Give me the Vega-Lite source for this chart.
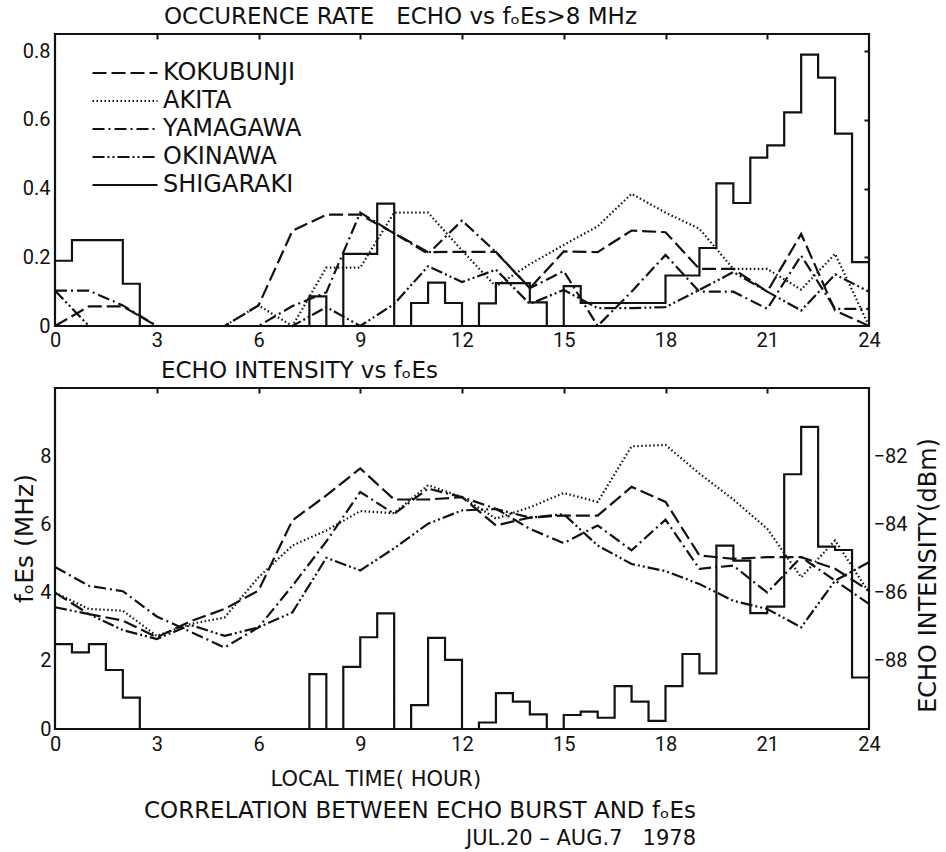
{
  "$schema": "https://vega.github.io/schema/vega-lite/v6.json",
  "background": "white",
  "padding": {"left": 11, "top": 4, "right": 0, "bottom": 4},
  "title": {
    "text": "CORRELATION BETWEEN ECHO BURST AND fₒEs",
    "subtitle": "JUL.20 – AUG.7\u00a0\u00a0\u00a01978",
    "orient": "bottom", "anchor": "end", "frame": "bounds", "dx": -246, "offset": 10,
    "font": "DejaVu Sans", "fontSize": 23, "fontWeight": "normal", "color": "#111",
    "subtitleFont": "DejaVu Sans", "subtitleFontSize": 21, "subtitleColor": "#111", "subtitlePadding": 5
  },
  "spacing": 6,
  "resolve": {"scale": {"strokeDash": "independent"}, "legend": {"strokeDash": "independent"}},
  "vconcat": [
    {
      "width": 814, "height": 292,
      "title": {"text": "OCCURENCE RATE\u00a0\u00a0\u00a0ECHO vs fₒEs>8 MHz", "anchor": "start", "frame": "group", "dx": 109, "fontSize": 23, "offset": 4},
      "layer": [
        {
          "data": {"values": [
            {"hour": 0, "KOKUBUNJI": 0, "AKITA": 0, "YAMAGAWA": 0.103, "OKINAWA": 0.103},
            {"hour": 1, "KOKUBUNJI": 0.057, "AKITA": 0, "YAMAGAWA": 0.103, "OKINAWA": 0},
            {"hour": 2, "KOKUBUNJI": 0.057, "AKITA": 0, "YAMAGAWA": 0.06, "OKINAWA": 0},
            {"hour": 3, "KOKUBUNJI": 0, "AKITA": 0, "YAMAGAWA": 0, "OKINAWA": 0},
            {"hour": 4, "KOKUBUNJI": 0, "AKITA": 0, "YAMAGAWA": 0, "OKINAWA": 0},
            {"hour": 5, "KOKUBUNJI": 0, "AKITA": 0, "YAMAGAWA": 0, "OKINAWA": 0},
            {"hour": 6, "KOKUBUNJI": 0.06, "AKITA": 0.06, "YAMAGAWA": 0, "OKINAWA": 0},
            {"hour": 7, "KOKUBUNJI": 0.277, "AKITA": 0, "YAMAGAWA": 0.058, "OKINAWA": 0},
            {"hour": 8, "KOKUBUNJI": 0.324, "AKITA": 0.17, "YAMAGAWA": 0.098, "OKINAWA": 0.055},
            {"hour": 9, "KOKUBUNJI": 0.324, "AKITA": 0.17, "YAMAGAWA": 0.33, "OKINAWA": 0},
            {"hour": 10, "KOKUBUNJI": 0.27, "AKITA": 0.33, "YAMAGAWA": 0.27, "OKINAWA": 0.064},
            {"hour": 11, "KOKUBUNJI": 0.215, "AKITA": 0.33, "YAMAGAWA": 0.21, "OKINAWA": 0.174},
            {"hour": 12, "KOKUBUNJI": 0.216, "AKITA": 0.22, "YAMAGAWA": 0.307, "OKINAWA": 0.128},
            {"hour": 13, "KOKUBUNJI": 0.216, "AKITA": 0.115, "YAMAGAWA": 0.215, "OKINAWA": 0.164},
            {"hour": 14, "KOKUBUNJI": 0.11, "AKITA": 0.18, "YAMAGAWA": 0.11, "OKINAWA": 0.064},
            {"hour": 15, "KOKUBUNJI": 0.217, "AKITA": 0.236, "YAMAGAWA": 0.16, "OKINAWA": 0.105},
            {"hour": 16, "KOKUBUNJI": 0.215, "AKITA": 0.29, "YAMAGAWA": 0, "OKINAWA": 0.052},
            {"hour": 17, "KOKUBUNJI": 0.278, "AKITA": 0.385, "YAMAGAWA": 0.1, "OKINAWA": 0.052},
            {"hour": 18, "KOKUBUNJI": 0.273, "AKITA": 0.33, "YAMAGAWA": 0.207, "OKINAWA": 0.055},
            {"hour": 19, "KOKUBUNJI": 0.166, "AKITA": 0.283, "YAMAGAWA": 0.1, "OKINAWA": 0.105},
            {"hour": 20, "KOKUBUNJI": 0.166, "AKITA": 0.166, "YAMAGAWA": 0.1, "OKINAWA": 0.157},
            {"hour": 21, "KOKUBUNJI": 0.1, "AKITA": 0.166, "YAMAGAWA": 0.05, "OKINAWA": 0.1},
            {"hour": 22, "KOKUBUNJI": 0.268, "AKITA": 0.106, "YAMAGAWA": 0.205, "OKINAWA": 0.045},
            {"hour": 23, "KOKUBUNJI": 0.045, "AKITA": 0.21, "YAMAGAWA": 0.05, "OKINAWA": 0.15},
            {"hour": 24, "KOKUBUNJI": 0, "AKITA": 0, "YAMAGAWA": 0.05, "OKINAWA": 0.1}
          ]},
          "transform": [{"fold": ["KOKUBUNJI", "AKITA", "YAMAGAWA", "OKINAWA"], "as": ["station", "rate"]}],
          "mark": {"type": "line", "strokeWidth": 2.2, "color": "#111"},
          "encoding": {
            "x": {"field": "hour", "type": "quantitative", "scale": {"domain": [0, 24], "nice": false},
                  "axis": {"orient": "bottom", "values": [0, 3, 6, 9, 12, 15, 18, 21, 24], "title": null, "labelPadding": 4}},
            "y": {"field": "rate", "type": "quantitative", "scale": {"domain": [0, 0.85], "nice": false},
                  "axis": {"orient": "left", "values": [0, 0.2, 0.4, 0.6, 0.8], "labelExpr": "datum.value == 0 ? '0' : format(datum.value, '.1f')", "title": null, "labelPadding": 5}},
            "strokeDash": {"field": "station", "type": "nominal",
              "scale": {"domain": ["KOKUBUNJI", "AKITA", "YAMAGAWA", "OKINAWA", "SHIGARAKI"],
                        "range": [[14, 5], [1.5, 2.5], [12, 4, 2, 4], [12, 3, 2, 3, 2, 3], [1, 0]]},
              "legend": {"orient": "none", "legendX": 58, "legendY": 27, "title": null, "symbolType": "M-4,0H4",
                         "symbolSize": 264, "symbolStrokeWidth": 2.2, "symbolStrokeColor": "#111",
                         "labelFont": "DejaVu Sans", "labelFontSize": 24, "labelColor": "#111",
                         "rowPadding": 4, "labelOffset": 26, "padding": 0}}
          }
        },
        {
          "data": {"name": "shig", "values": [
            {"hour": 0, "rate": 0.19}, {"hour": 0.5, "rate": 0.25}, {"hour": 1, "rate": 0.25}, {"hour": 1.5, "rate": 0.25},
            {"hour": 2, "rate": 0.123}, {"hour": 2.5, "rate": 0}, {"hour": 3, "rate": 0}, {"hour": 3.5, "rate": 0},
            {"hour": 4, "rate": 0}, {"hour": 4.5, "rate": 0}, {"hour": 5, "rate": 0}, {"hour": 5.5, "rate": 0},
            {"hour": 6, "rate": 0}, {"hour": 6.5, "rate": 0}, {"hour": 7, "rate": 0}, {"hour": 7.5, "rate": 0.086},
            {"hour": 8, "rate": 0}, {"hour": 8.5, "rate": 0.21}, {"hour": 9, "rate": 0.21}, {"hour": 9.5, "rate": 0.356},
            {"hour": 10, "rate": 0}, {"hour": 10.5, "rate": 0.067}, {"hour": 11, "rate": 0.126}, {"hour": 11.5, "rate": 0.067},
            {"hour": 12, "rate": 0}, {"hour": 12.5, "rate": 0.066}, {"hour": 13, "rate": 0.125}, {"hour": 13.5, "rate": 0.125},
            {"hour": 14, "rate": 0.069}, {"hour": 14.5, "rate": 0}, {"hour": 15, "rate": 0.116}, {"hour": 15.5, "rate": 0.067},
            {"hour": 16, "rate": 0.067}, {"hour": 16.5, "rate": 0.067}, {"hour": 17, "rate": 0.067}, {"hour": 17.5, "rate": 0.067},
            {"hour": 18, "rate": 0.147}, {"hour": 18.5, "rate": 0.147}, {"hour": 19, "rate": 0.227}, {"hour": 19.5, "rate": 0.415},
            {"hour": 20, "rate": 0.358}, {"hour": 20.5, "rate": 0.49}, {"hour": 21, "rate": 0.526}, {"hour": 21.5, "rate": 0.622},
            {"hour": 22, "rate": 0.79}, {"hour": 22.5, "rate": 0.723}, {"hour": 23, "rate": 0.56}, {"hour": 23.5, "rate": 0.186},
            {"hour": 24, "rate": 0.186}
          ]},
          "mark": {"type": "line", "interpolate": "step-after", "strokeWidth": 2.2, "color": "#111"},
          "encoding": {
            "x": {"field": "hour", "type": "quantitative", "axis": null},
            "y": {"field": "rate", "type": "quantitative", "axis": null},
            "strokeDash": {"datum": "SHIGARAKI", "type": "nominal"}
          }
        },
        {
          "data": {"name": "shig"},
          "mark": {"type": "point", "opacity": 0},
          "encoding": {
            "x": {"field": "hour", "type": "quantitative",
                  "axis": {"orient": "top", "labels": false, "ticks": true, "tickSize": -5, "tickWidth": 2, "tickColor": "#111", "values": [3, 6, 9, 12, 15, 18, 21], "title": null}},
            "y": {"field": "rate", "type": "quantitative",
                  "axis": {"orient": "right", "labels": false, "ticks": true, "tickSize": -5, "tickWidth": 2, "tickColor": "#111", "values": [0.2, 0.4, 0.6, 0.8], "title": null}}
          }
        }
      ],
      "resolve": {"axis": {"x": "independent", "y": "independent"}}
    },
    {
      "width": 814, "height": 341,
      "title": {"text": "ECHO INTENSITY vs fₒEs", "anchor": "start", "frame": "group", "dx": 106, "fontSize": 23, "offset": 4},
      "layer": [
        {
          "data": {"values": [
            {"hour": 0, "KOKUBUNJI": 4.0, "AKITA": 4.0, "YAMAGAWA": 4.75, "OKINAWA": 3.57},
            {"hour": 1, "KOKUBUNJI": 3.37, "AKITA": 3.52, "YAMAGAWA": 4.2, "OKINAWA": 3.37},
            {"hour": 2, "KOKUBUNJI": 3.18, "AKITA": 3.47, "YAMAGAWA": 4.04, "OKINAWA": 2.9},
            {"hour": 3, "KOKUBUNJI": 2.69, "AKITA": 2.73, "YAMAGAWA": 3.3, "OKINAWA": 2.64},
            {"hour": 4, "KOKUBUNJI": 3.16, "AKITA": 3.08, "YAMAGAWA": 2.85, "OKINAWA": 3.05},
            {"hour": 5, "KOKUBUNJI": 3.52, "AKITA": 3.27, "YAMAGAWA": 2.39, "OKINAWA": 2.73},
            {"hour": 6, "KOKUBUNJI": 4.06, "AKITA": 4.45, "YAMAGAWA": 2.98, "OKINAWA": 2.98},
            {"hour": 7, "KOKUBUNJI": 6.12, "AKITA": 5.38, "YAMAGAWA": 4.2, "OKINAWA": 3.42},
            {"hour": 8, "KOKUBUNJI": 6.85, "AKITA": 5.82, "YAMAGAWA": 5.5, "OKINAWA": 5.02},
            {"hour": 9, "KOKUBUNJI": 7.64, "AKITA": 6.39, "YAMAGAWA": 6.95, "OKINAWA": 4.65},
            {"hour": 10, "KOKUBUNJI": 6.73, "AKITA": 6.33, "YAMAGAWA": 6.31, "OKINAWA": 5.3},
            {"hour": 11, "KOKUBUNJI": 6.73, "AKITA": 7.15, "YAMAGAWA": 7.05, "OKINAWA": 6.02},
            {"hour": 12, "KOKUBUNJI": 6.8, "AKITA": 6.8, "YAMAGAWA": 6.8, "OKINAWA": 6.41},
            {"hour": 13, "KOKUBUNJI": 5.97, "AKITA": 6.17, "YAMAGAWA": 6.46, "OKINAWA": 6.45},
            {"hour": 14, "KOKUBUNJI": 6.2, "AKITA": 6.5, "YAMAGAWA": 5.87, "OKINAWA": 6.2},
            {"hour": 15, "KOKUBUNJI": 6.26, "AKITA": 6.92, "YAMAGAWA": 5.45, "OKINAWA": 6.3},
            {"hour": 16, "KOKUBUNJI": 6.26, "AKITA": 6.66, "YAMAGAWA": 5.97, "OKINAWA": 5.38},
            {"hour": 17, "KOKUBUNJI": 7.1, "AKITA": 8.29, "YAMAGAWA": 5.24, "OKINAWA": 4.84},
            {"hour": 18, "KOKUBUNJI": 6.66, "AKITA": 8.33, "YAMAGAWA": 6.14, "OKINAWA": 4.63},
            {"hour": 19, "KOKUBUNJI": 5.09, "AKITA": 7.49, "YAMAGAWA": 4.7, "OKINAWA": 4.25},
            {"hour": 20, "KOKUBUNJI": 4.99, "AKITA": 6.73, "YAMAGAWA": 4.79, "OKINAWA": 3.76},
            {"hour": 21, "KOKUBUNJI": 5.04, "AKITA": 5.87, "YAMAGAWA": 4.0, "OKINAWA": 3.52},
            {"hour": 22, "KOKUBUNJI": 5.04, "AKITA": 4.45, "YAMAGAWA": 5.04, "OKINAWA": 2.98},
            {"hour": 23, "KOKUBUNJI": 4.7, "AKITA": 5.53, "YAMAGAWA": 4.35, "OKINAWA": 4.35},
            {"hour": 24, "KOKUBUNJI": 4.06, "AKITA": 4.0, "YAMAGAWA": 3.67, "OKINAWA": 4.89}
          ]},
          "transform": [{"fold": ["KOKUBUNJI", "AKITA", "YAMAGAWA", "OKINAWA"], "as": ["station", "foes"]}],
          "mark": {"type": "line", "strokeWidth": 2.2, "color": "#111"},
          "encoding": {
            "x": {"field": "hour", "type": "quantitative", "scale": {"domain": [0, 24], "nice": false},
                  "axis": {"orient": "bottom", "values": [0, 3, 6, 9, 12, 15, 18, 21, 24], "labelPadding": 5,
                           "title": "LOCAL TIME( HOUR)", "titleFontSize": 21, "titleX": 215, "titleY": 56,
                           "titleAlign": "left", "titleBaseline": "alphabetic"}},
            "y": {"field": "foes", "type": "quantitative", "scale": {"domain": [0, 10], "nice": false},
                  "axis": {"orient": "left", "values": [0, 2, 4, 6, 8], "labelPadding": 4,
                           "title": "fₒEs (MHz)", "titleFontSize": 25, "titlePadding": 2, "titleY": 150}},
            "strokeDash": {"field": "station", "type": "nominal",
              "scale": {"domain": ["KOKUBUNJI", "AKITA", "YAMAGAWA", "OKINAWA"],
                        "range": [[14, 5], [1.5, 2.5], [12, 4, 2, 4], [12, 3, 2, 3, 2, 3]]},
              "legend": null}
          }
        },
        {
          "data": {"name": "echo", "values": [
            {"hour": 0, "dbm": -87.51}, {"hour": 0.5, "dbm": -87.75}, {"hour": 1, "dbm": -87.51}, {"hour": 1.5, "dbm": -88.27},
            {"hour": 2, "dbm": -89.08}, {"hour": 2.5, "dbm": -90}, {"hour": 3, "dbm": -90}, {"hour": 3.5, "dbm": -90},
            {"hour": 4, "dbm": -90}, {"hour": 4.5, "dbm": -90}, {"hour": 5, "dbm": -90}, {"hour": 5.5, "dbm": -90},
            {"hour": 6, "dbm": -90}, {"hour": 6.5, "dbm": -90}, {"hour": 7, "dbm": -90}, {"hour": 7.5, "dbm": -88.39},
            {"hour": 8, "dbm": -90}, {"hour": 8.5, "dbm": -88.18}, {"hour": 9, "dbm": -87.31}, {"hour": 9.5, "dbm": -86.61},
            {"hour": 10, "dbm": -90}, {"hour": 10.5, "dbm": -89.3}, {"hour": 11, "dbm": -87.33}, {"hour": 11.5, "dbm": -87.97},
            {"hour": 12, "dbm": -90}, {"hour": 12.5, "dbm": -89.81}, {"hour": 13, "dbm": -88.95}, {"hour": 13.5, "dbm": -89.2},
            {"hour": 14, "dbm": -89.57}, {"hour": 14.5, "dbm": -90}, {"hour": 15, "dbm": -89.59}, {"hour": 15.5, "dbm": -89.49},
            {"hour": 16, "dbm": -89.67}, {"hour": 16.5, "dbm": -88.74}, {"hour": 17, "dbm": -89.2}, {"hour": 17.5, "dbm": -89.76},
            {"hour": 18, "dbm": -88.74}, {"hour": 18.5, "dbm": -87.8}, {"hour": 19, "dbm": -88.37}, {"hour": 19.5, "dbm": -84.62},
            {"hour": 20, "dbm": -85.06}, {"hour": 20.5, "dbm": -86.6}, {"hour": 21, "dbm": -86.41}, {"hour": 21.5, "dbm": -82.53},
            {"hour": 22, "dbm": -81.14}, {"hour": 22.5, "dbm": -84.65}, {"hour": 23, "dbm": -84.75}, {"hour": 23.5, "dbm": -88.49},
            {"hour": 24, "dbm": -88.49}
          ]},
          "mark": {"type": "line", "interpolate": "step-after", "strokeWidth": 2.2, "color": "#111"},
          "encoding": {
            "x": {"field": "hour", "type": "quantitative", "axis": null},
            "y": {"field": "dbm", "type": "quantitative", "scale": {"domain": [-90, -80], "nice": false},
                  "axis": {"orient": "right", "values": [-82, -84, -86, -88], "labelPadding": 4,
                           "title": "ECHO INTENSITY(dBm)", "titleFontSize": 24, "titleAngle": 270, "titleBaseline": "top", "titlePadding": 10, "titleY": 187}}
          }
        },
        {
          "data": {"name": "echo"},
          "mark": {"type": "point", "opacity": 0},
          "encoding": {
            "x": {"field": "hour", "type": "quantitative",
                  "axis": {"orient": "top", "labels": false, "ticks": true, "tickSize": -5, "tickWidth": 2, "tickColor": "#111", "values": [3, 6, 9, 12, 15, 18, 21], "title": null}}
          }
        }
      ],
      "resolve": {"scale": {"y": "independent"}, "axis": {"x": "independent", "y": "independent"}}
    }
  ],
  "config": {
    "view": {"stroke": "#111", "strokeWidth": 2.2},
    "font": "DejaVu Sans",
    "axis": {"labelFont": "Roboto", "labelFontSize": 20, "labelColor": "#111", "grid": false, "domain": false, "ticks": false,
             "titleFont": "DejaVu Sans", "titleFontWeight": "normal", "titleColor": "#111", "labelFlush": false, "labelOverlap": false},
    "title": {"font": "DejaVu Sans", "fontWeight": "normal", "color": "#111"}
  }
}
